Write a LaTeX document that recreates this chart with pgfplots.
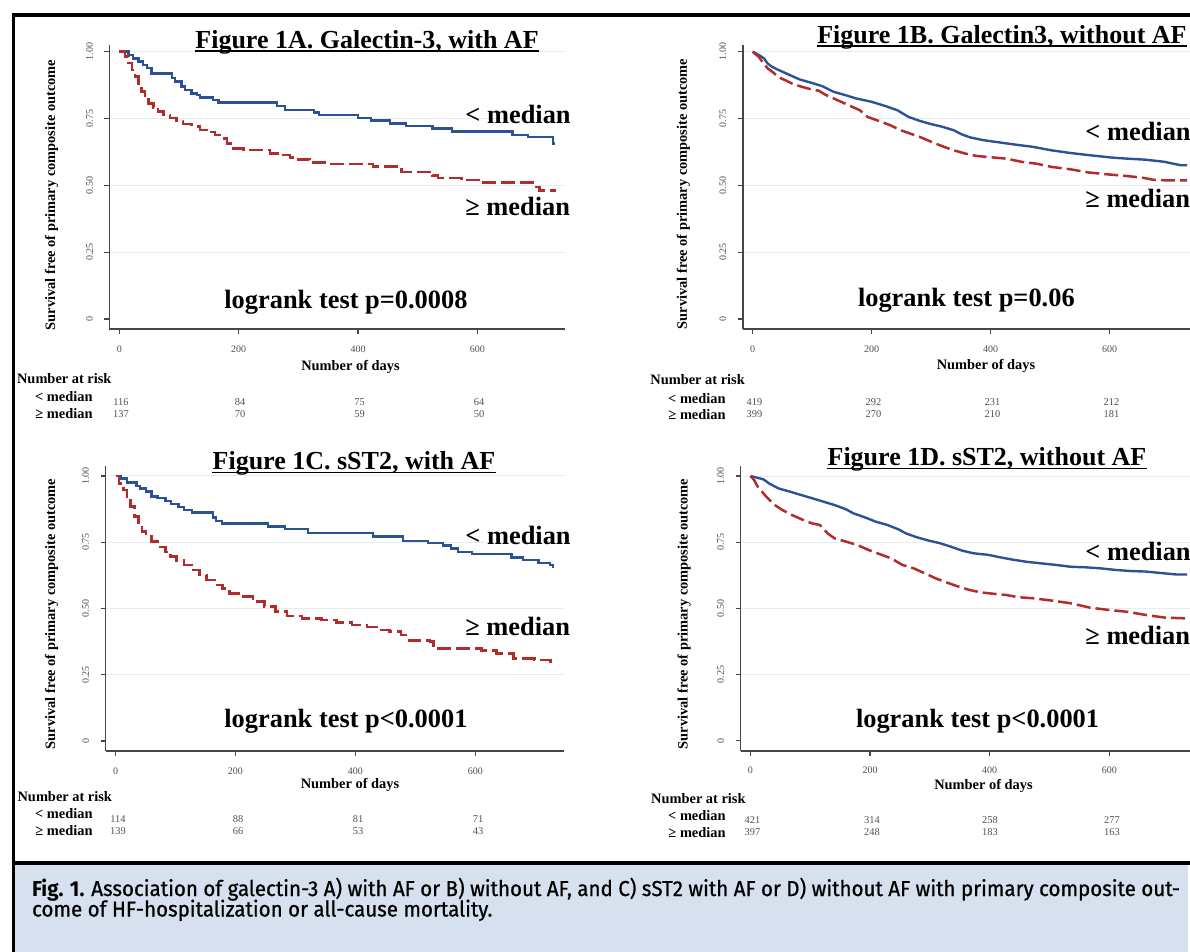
\documentclass[border=0pt]{standalone}
\usepackage{fontspec}
\setmainfont{Liberation Serif}
\newfontfamily\capfont[FakeBold=0.8]{Fira Sans}
\newfontfamily\capfontb{Fira Sans}
\usepackage{pgfplots}
\pgfplotsset{compat=1.18}
\usepackage{graphicx}

\definecolor{kmblue}{RGB}{44,82,150}
\definecolor{kmred}{RGB}{178,44,44}
\definecolor{axgray}{RGB}{70,70,70}
\definecolor{tickc}{RGB}{80,80,80}
\definecolor{gridc}{RGB}{228,238,241}
\definecolor{capbg}{RGB}{214,224,238}

\newcommand\ftitle{\fontsize{13}{15}\selectfont\bfseries}
\newcommand\fann{\fontsize{13.2}{15}\selectfont\bfseries}
\newcommand\fsmall{\fontsize{7.2}{8.6}\selectfont\bfseries}
\newcommand\ftick{\fontsize{5}{6}\selectfont}
\newcommand\fnum{\fontsize{5.2}{6}\selectfont}

\pgfplotsset{km/.style={
  scale only axis, anchor=south west,
  axis lines=left,
  axis line style={-, line width=0.8pt, color=axgray},
  every outer x axis line/.append style={-},
  every outer y axis line/.append style={-},
  tick align=outside, major tick length=2.5pt,
  tick style={line width=0.6pt, color=axgray},
  xtick={0,200,400,600}, xticklabels={0,200,400,600},
  ytick={0.25,0.5,0.75,1}, yticklabels={0.25,0.50,0.75,1.00},
  extra y ticks={0}, extra y tick labels={0},
  extra y tick style={grid=none},
  ymajorgrids, grid style={line width=0.5pt, color=gridc},
  xticklabel style={font=\ftick, text=tickc, inner sep=0.5pt},
  yticklabel style={font=\ftick, text=tickc, rotate=90, anchor=south, inner sep=0.5pt},
  xticklabel shift=5pt, yticklabel shift=5pt,
}}
\pgfplotsset{blueline/.style={kmblue, line width=1.2pt}, redline/.style={kmred, line width=1.25pt, dash pattern=on 7pt off 2.5pt}}

\newsavebox\capA
\newsavebox\capB

\begin{document}%
\sbox\capA{\fontsize{10.8}{12}\selectfont{\capfontb\bfseries Fig. 1.} \capfont Association of galectin-3 A) with AF or B) without AF, and C) sST2 with AF or D) without AF with primary composite out-}%
\sbox\capB{\capfont\fontsize{10.8}{12}\selectfont come of HF-hospitalization or all-cause mortality.}%
\pgfmathsetmacro\capscale{574pt/\the\wd\capA}%
\begin{tikzpicture}
\path[use as bounding box] (0,0) rectangle (595pt,-476pt);
\clip (0,0) rectangle (595pt,-476pt);

% ---------- Panel A ----------
\begin{axis}[km, at={(54.65pt,-164.5pt)}, width=227.85pt, height=142pt,
  xmin=-16.9, xmax=746.8, ymin=-0.0374, ymax=1.025]
\addplot[blueline, const plot] table {
0 1.000
15 0.988
23 0.975
32 0.963
40 0.950
46 0.938
54 0.919
88 0.901
93 0.888
104 0.869
110 0.857
121 0.844
130 0.838
135 0.828
157 0.819
166 0.810
264 0.797
278 0.782
326 0.772
335 0.763
400 0.751
422 0.742
454 0.732
480 0.722
525 0.713
557 0.701
659 0.688
685 0.680
727 0.657
730 0.657
};
\addplot[redline, const plot] table {
0 1.000
9 0.982
15 0.957
21 0.932
26 0.907
32 0.876
37 0.851
43 0.826
49 0.807
57 0.792
65 0.776
74 0.763
85 0.751
96 0.741
107 0.730
121 0.720
135 0.707
146 0.699
160 0.689
169 0.676
180 0.657
191 0.638
208 0.632
252 0.620
269 0.613
286 0.605
297 0.597
319 0.585
348 0.579
425 0.570
473 0.549
525 0.537
534 0.527
573 0.520
605 0.510
698 0.493
704 0.480
730 0.478
};
\end{axis}

% ---------- Panel B ----------
\begin{axis}[km, at={(371.35pt,-164.5pt)}, width=227.17pt, height=142pt,
  xmin=-16.8, xmax=746.8, ymin=-0.0374, ymax=1.025]
\addplot[blueline] table {
0 1.000
10 0.988
19 0.975
25 0.956
32 0.944
41 0.934
54 0.921
66 0.909
79 0.896
98 0.884
117 0.871
136 0.850
155 0.838
174 0.825
199 0.813
224 0.796
243 0.781
262 0.756
281 0.741
300 0.729
319 0.719
338 0.706
351 0.691
366 0.679
388 0.669
407 0.663
439 0.653
471 0.644
502 0.631
534 0.621
565 0.613
603 0.604
628 0.600
660 0.596
692 0.588
711 0.579
720 0.575
730 0.575
};
\addplot[redline] table {
0 1.000
10 0.981
16 0.963
25 0.938
35 0.921
44 0.904
54 0.894
66 0.881
79 0.871
98 0.859
111 0.854
123 0.838
136 0.825
148 0.813
161 0.800
180 0.781
193 0.756
212 0.741
231 0.725
249 0.706
268 0.691
281 0.681
300 0.663
319 0.646
338 0.631
357 0.619
376 0.610
395 0.606
426 0.600
452 0.588
477 0.581
502 0.569
534 0.560
565 0.548
597 0.541
628 0.535
654 0.529
673 0.521
692 0.519
730 0.519
};
\end{axis}

% ---------- Panel C ----------
\begin{axis}[km, at={(52.75pt,-375.5pt)}, width=229.4pt, height=142.5pt,
  xmin=-16.67, xmax=748, ymin=-0.0377, ymax=1.0377]
\addplot[blueline, const plot] table {
0 1.000
9 0.991
19 0.975
35 0.962
41 0.953
51 0.941
60 0.922
70 0.916
83 0.906
92 0.894
105 0.884
114 0.872
127 0.862
162 0.844
168 0.831
178 0.821
254 0.809
283 0.800
321 0.784
429 0.772
479 0.755
521 0.747
546 0.737
559 0.727
571 0.714
594 0.706
660 0.692
679 0.682
705 0.672
724 0.664
729 0.658
730 0.658
};
\addplot[redline, const plot] table {
0 1.000
6 0.972
13 0.947
19 0.916
25 0.884
32 0.847
38 0.815
44 0.790
51 0.771
60 0.752
70 0.733
83 0.714
92 0.696
102 0.681
114 0.664
127 0.645
140 0.626
152 0.608
165 0.589
178 0.576
190 0.557
210 0.545
229 0.526
248 0.507
267 0.488
286 0.472
311 0.463
343 0.457
368 0.447
394 0.438
419 0.431
438 0.419
457 0.413
476 0.400
489 0.379
524 0.375
530 0.350
610 0.341
635 0.331
663 0.312
698 0.306
725 0.299
730 0.299
};
\end{axis}

% ---------- Panel D ----------
\begin{axis}[km, at={(370.25pt,-375.35pt)}, width=228.65pt, height=142.35pt,
  xmin=-16.7, xmax=748, ymin=-0.0378, ymax=1.0378]
\addplot[blueline] table {
0 1.000
9 0.995
22 0.987
31 0.972
47 0.953
66 0.941
85 0.928
103 0.916
122 0.903
141 0.890
160 0.874
172 0.859
191 0.844
210 0.827
229 0.815
248 0.798
260 0.783
279 0.768
298 0.756
317 0.746
335 0.733
354 0.718
373 0.708
398 0.702
417 0.693
436 0.685
461 0.676
486 0.670
511 0.664
536 0.657
561 0.655
586 0.651
611 0.645
636 0.641
661 0.639
693 0.632
712 0.628
730 0.628
};
\addplot[redline] table {
0 1.000
6 0.985
12 0.960
19 0.941
28 0.918
41 0.890
53 0.872
66 0.856
78 0.844
91 0.831
103 0.821
116 0.815
129 0.783
141 0.764
160 0.752
179 0.739
198 0.720
216 0.705
235 0.689
254 0.664
273 0.651
292 0.632
310 0.613
329 0.597
348 0.582
367 0.569
386 0.560
411 0.554
429 0.550
448 0.542
473 0.538
505 0.529
536 0.519
567 0.503
599 0.494
630 0.487
661 0.475
693 0.465
730 0.462
};
\end{axis}

\begin{scope}[x=0.5pt,y=-0.5pt]
% frame
\fill[black] (11.5,13.5) rectangle (1190,16.8);
\fill[black] (11.5,13.5) rectangle (14.8,952);
\fill[black] (11.5,861.3) rectangle (1190,865.3);
\fill[capbg] (14.8,865.3) rectangle (1188,952);

% titles
\node[anchor=base west, inner sep=0] (tA) at (195,48.3) {\ftitle Figure 1A. Galectin-3, with AF};
\node[anchor=base east, inner sep=0] (tB) at (1187,43.3) {\ftitle Figure 1B. Galectin3, without AF};
\node[anchor=base, inner sep=0] (tC) at (354,470) {\ftitle Figure 1C. sST2, with AF};
\node[anchor=base, inner sep=0] (tD) at (987,466) {\ftitle Figure 1D. sST2, without AF};
\foreach \t in {tA,tB,tC,tD}{
  \draw[line width=0.9pt] ([yshift=-1.3pt]\t.base west) -- ([yshift=-1.3pt]\t.base east);
}

% annotations
\node[anchor=west, inner sep=0] at (465,114.3) {\fann < median};
\node[anchor=west, inner sep=0] at (465,206.7) {\fann ≥ median};
\node[anchor=west, inner sep=0] at (224,302) {\fann logrank test p=0.0008};
\node[anchor=west, inner sep=0] at (1085,131.7) {\fann < median};
\node[anchor=west, inner sep=0] at (1085,198.3) {\fann ≥ median};
\node[anchor=west, inner sep=0] at (857.6,300) {\fann logrank test p=0.06};
\node[anchor=west, inner sep=0] at (465,535) {\fann < median};
\node[anchor=west, inner sep=0] at (465,626.7) {\fann ≥ median};
\node[anchor=west, inner sep=0] at (224,721.7) {\fann logrank test p<0.0001};
\node[anchor=west, inner sep=0] at (1085,551.7) {\fann < median};
\node[anchor=west, inner sep=0] at (1085,635) {\fann ≥ median};
\node[anchor=west, inner sep=0] at (855.6,721.7) {\fann logrank test p<0.0001};

% axis titles
\foreach \x/\y in {51.7/195, 683.3/194, 51.7/614, 684/614}{
  \node[rotate=90, inner sep=0] at (\x,\y) {\fsmall Survival free of primary composite outcome};
}
\foreach \x/\y in {350.5/367.3, 986/365.7, 350/785, 983.5/786}{
  \node[inner sep=0] at (\x,\y) {\fsmall Number of days};
}

% risk tables
\node[anchor=west, inner sep=0] at (16.7,378.3) {\fsmall Number at risk};
\node[anchor=east, inner sep=0] at (93,396.7) {\fsmall < median};
\node[anchor=east, inner sep=0] at (93,414) {\fsmall ≥ median};
\foreach \x/\a/\b in {121/116/137, 240/84/70, 359.5/75/59, 479/64/50}{
  \node[inner sep=0, text=tickc] at (\x,401.7) {\fnum \a};
  \node[inner sep=0, text=tickc] at (\x,413.7) {\fnum \b};
}
\node[anchor=west, inner sep=0] at (650,380) {\fsmall Number at risk};
\node[anchor=east, inner sep=0] at (726,398.3) {\fsmall < median};
\node[anchor=east, inner sep=0] at (726,415) {\fsmall ≥ median};
\foreach \x/\a/\b in {754.5/419/399, 873.5/292/270, 992.5/231/210, 1111.5/212/181}{
  \node[inner sep=0, text=tickc] at (\x,401.7) {\fnum \a};
  \node[inner sep=0, text=tickc] at (\x,414) {\fnum \b};
}
\node[anchor=west, inner sep=0] at (17.2,797) {\fsmall Number at risk};
\node[anchor=east, inner sep=0] at (93,814) {\fsmall < median};
\node[anchor=east, inner sep=0] at (93,831) {\fsmall ≥ median};
\foreach \x/\a/\b in {118/114/139, 238/88/66, 358/81/53, 478/71/43}{
  \node[inner sep=0, text=tickc] at (\x,819) {\fnum \a};
  \node[inner sep=0, text=tickc] at (\x,831.5) {\fnum \b};
}
\node[anchor=west, inner sep=0] at (650.8,799) {\fsmall Number at risk};
\node[anchor=east, inner sep=0] at (726,816) {\fsmall < median};
\node[anchor=east, inner sep=0] at (726,833) {\fsmall ≥ median};
\foreach \x/\a/\b in {752.5/421/397, 872/314/248, 990/258/183, 1112/277/163}{
  \node[inner sep=0, text=tickc] at (\x,820) {\fnum \a};
  \node[inner sep=0, text=tickc] at (\x,832) {\fnum \b};
}

% caption
\node[anchor=base west, inner sep=0] at (31.7,896) {\scalebox{\capscale}[1]{\usebox\capA}};
\node[anchor=base west, inner sep=0] at (31.7,916.5) {\scalebox{\capscale}[1]{\usebox\capB}};
\end{scope}
\end{tikzpicture}%
\end{document}
